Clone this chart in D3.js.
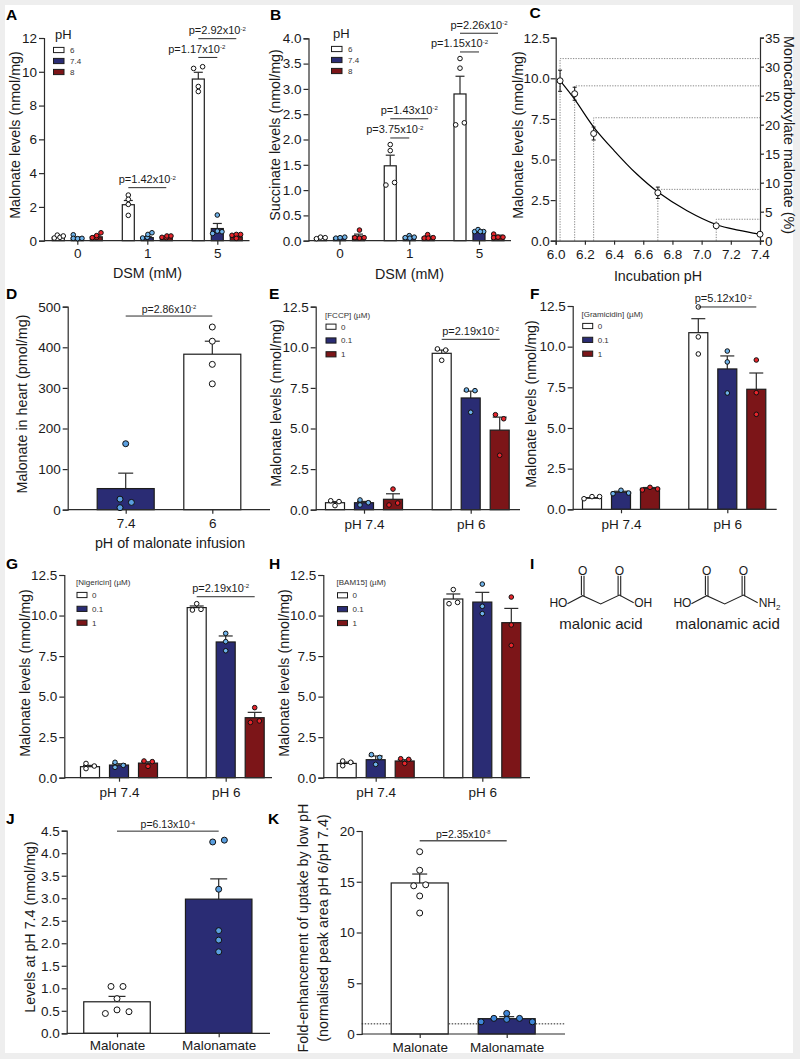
<!DOCTYPE html>
<html><head><meta charset="utf-8">
<script src="https://cdn.jsdelivr.net/npm/d3@7"></script>
<style>
html,body{margin:0;padding:0;background:#fff}
svg{display:block}
text{font-family:"Liberation Sans",Arial,sans-serif;fill:#1a1a1a}
</style></head><body><svg id="c" width="800" height="1059"></svg>
<script>
// ---------- DATA (dots are [value, lane]; lane -1..1 = across the bar width) ----------
const pHSeries=["6","7.4","8"], doseSeries=["0","0.1","1"];
const dsmGroups=["0","1","5"], phGroups=["pH 7.4","pH 6"];

const aMeans=[[0.2,0.17,0.23],[2.13,0.18,0.2],[9.57,0.72,0.22]];
const aErrs=[[0.04,0.05,0.06],[0.25,0.06,0.03],[0.4,0.3,0.04]];
const aDots=[
 [[[0.16,-.67],[0.33,-.17],[0.2,.28],[0.28,.83]],[[0.35,-.67],[0.14,-.67],[0.12,.05],[0.14,.78]],[[0.18,-.67],[0.2,.05],[0.3,.05],[0.47,.78]]],
 [[[2.7,0],[2.45,0],[2.15,0],[1.5,0]],[[0.16,-.78],[0.2,0],[0.37,.1],[0.47,.78]],[[0.2,-.72],[0.18,0],[0.28,.1],[0.28,.78]]],
 [[[10.2,-.78],[10.3,.72],[9.13,0],[8.83,0]],[[1.52,0],[0.43,-.78],[0.57,0],[0.53,.78]],[[0.32,-.72],[0.37,0],[0.37,.72],[0.14,0]]]];
const aBrackets=[[1,0,1,2,3.14,"1.42","-2",0],[2,0,2,1,10.85,"1.17","-2",-11],[2,0,2,2,11.96,"2.92","-2",0]];

const bMeans=[[0.05,0.06,0.09],[1.48,0.07,0.07],[2.9,0.17,0.09]];
const bErrs=[[0.01,0.01,0.04],[0.21,0.01,0.02],[0.35,0.01,0.02]];
const bDots=[
 [[[0.04,-.67],[0.07,0],[0.06,.78]],[[0.05,-.6],[0.06,.1],[0.07,.88]],[[0.21,.16],[0.06,-.6],[0.05,.16],[0.06,.94]]],
 [[[1.9,0],[1.78,0],[1.1,-.72],[1.15,.72]],[[0.06,-.67],[0.1,0],[0.05,.1],[0.07,.83]],[[0.05,-.67],[0.12,-.1],[0.05,0],[0.06,.83]]],
 [[[3.6,0],[3.41,0],[2.29,-.72],[2.33,.72]],[[0.18,-.72],[0.22,-.16],[0.18,.78],[0.18,.22]],[[0.13,-.72],[0.06,-.72],[0.07,0],[0.07,.83]]]];
const bBrackets=[[1,0,1,1,2.03,"3.75","-2",-5],[1,0,1,2,2.41,"1.43","-2",0],[2,0,2,1,3.73,"1.15","-2",-10],[2,0,2,2,4.1,"2.26","-2",0]];

const cPH=[6.03,6.13,6.26,6.7,7.1,7.4];
const cMean=[9.85,9.05,6.6,2.95,0.92,0.4];
const cErr=[0.65,0.4,0.4,0.35,0.1,0.1];
const cPercent=[31.4,26.7,21.2,8.85,3.7];
const cCurvePH=[6.03,6.13,6.26,6.4,6.55,6.7,6.9,7.1,7.25,7.4];
const cCurveVal=[9.85,8.7,7.0,5.55,4.15,3.0,1.85,1.0,0.65,0.4];
const cXTicks=[6.0,6.2,6.4,6.6,6.8,7.0,7.2,7.4];
const cYTicks=[0,2.5,5,7.5,10,12.5];
const cRTicks=[0,5,10,15,20,25,30,35];

const dGroups=["7.4","6"];
const dMeans=[[52],[383]], dErrs=[[38],[32]];
const dDots=[[[[162.5,0],[26,-.2],[18,.2],[5,-.2]]],[[[450,0],[415,0],[358,0],[310,0]]]];

const eMeans=[[0.43,0.43,0.64],[9.63,6.88,4.9]];
const eErrs=[[0.07,0.08,0.34],[0.2,0.42,0.8]];
const eDots=[
 [[[0.55,-.45],[0.5,.42],[0.25,0]],[[0.6,-.42],[0.43,.45],[0.29,-.42]],[[1.27,0],[0.29,-.42],[0.41,.49]]],
 [[[9.9,-.45],[9.83,.42],[9.2,0]],[[7.37,-.45],[7.33,.45],[6.0,0]],[[5.85,-.45],[5.6,.42],[3.35,0]]]];
const fMeans=[[0.68,1.05,1.29],[10.86,8.63,7.38]];
const fErrs=[[0.04,0.06,0.05],[0.86,0.8,1.0]];
const fDots=[
 [[[0.65,-.84],[0.78,0],[0.78,.8]],[[0.96,-.84],[1.17,0],[1.0,.8]],[[1.19,-.8],[1.35,0],[1.25,.8]]],
 [[[12.44,0],[10.6,0],[9.55,0]],[[9.73,0],[9.06,0],[7.15,0]],[[9.18,0],[7.17,0],[5.84,0]]]];
const gMeans=[[0.68,0.78,0.9],[10.49,8.37,3.7]];
const gErrs=[[0.08,0.08,0.08],[0.1,0.37,0.33]];
const gDots=[
 [[[0.88,-.42],[0.72,.45],[0.56,-.42]],[[0.95,-.42],[0.76,.45],[0.64,-.42]],[[1.03,-.42],[0.99,.45],[0.7,0]]],
 [[[10.34,-.45],[10.73,0],[10.38,.45]],[[8.9,0],[8.39,0],[7.83,0]],[[4.32,0],[3.41,-.45],[3.5,.49]]]];
const hMeans=[[0.88,1.11,1.03],[11.02,10.83,9.56]];
const hErrs=[[0.08,0.23,0.08],[0.31,0.6,0.88]];
const hDots=[
 [[[1.03,-.42],[0.95,.42],[0.74,-.42]],[[1.42,-.45],[1.25,.42],[0.82,0]],[[1.17,-.42],[1.13,.42],[0.88,0]]],
 [[[11.6,0],[10.73,-.45],[10.81,.45]],[[11.94,0],[10.57,0],[10.12,0]],[[11.14,0],[9.42,0],[8.16,0]]]];

const jGroups=["Malonate","Malonamate"];
const jMeans=[[0.7],[2.98]], jErrs=[[0.12],[0.45]];
const jDots=[[[[1.04,-.18],[1.04,.18],[0.77,0],[0.52,0],[0.48,.36],[0.44,-.35]]],[[[4.25,-.18],[4.29,.17],[3.2,0],[2.28,0],[2.07,0],[1.81,0]]]];
const kMeans=[[14.88],[1.51]], kErrs=[[0.88],[0.2]];
const kDots=[[[[17.96,0],[16.13,0],[14.6,-.21],[14.7,.21],[13.6,0],[11.92,0]]],[[[1.2,-.9],[1.54,-.45],[2.03,0],[1.44,0],[1.54,.45],[1.2,.9]]]];

const yTicksDose=[0,2.5,5,7.5,10,12.5];
const yTicksA=[0,2,4,6,8,10,12];
const yTicksB=[0,0.5,1,1.5,2,2.5,3,3.5,4];
const yTicksD=[0,100,200,300,400,500];
const yTicksJ=[0,0.5,1,1.5,2,2.5,3,3.5,4,4.5];
const yTicksK=[0,5,10,15,20];

// ---------- STYLE ----------
const WHITE="#ffffff",NAVY="#2a2c74",WINE="#7c1518";
const DOT_W="#ffffff",DOT_B="#6fb3ea",DOT_R="#e8252b",DOT_B2="#5a9fe0";
const INK="#2b2b2b";
const TITLE=14.3,TICK=13.5;
const svg=d3.select("#c");
svg.append("rect").attr("width",800).attr("height",1059).attr("fill","#eeeeee");
svg.append("rect").attr("x",5).attr("y",5).attr("width",788).attr("height",1048).attr("fill","#fff");

function txt(x,y,s,size,opt={}){
  const t=svg.append("text").attr("x",x).attr("y",y).attr("font-size",size).text(s);
  if(opt.anchor)t.attr("text-anchor",opt.anchor);
  if(opt.bold)t.attr("font-weight","bold");
  if(opt.rot!=null)t.attr("x",null).attr("y",null).attr("transform",`translate(${x},${y}) rotate(${opt.rot})`);
  return t;
}
function letter(s,x,y){txt(x,y,s,15.5,{bold:true}).style("fill","#000");}
function styleAxis(g,size){
  g.selectAll("path,line").attr("stroke",INK).attr("stroke-width",1.2);
  g.selectAll("text").attr("font-size",size).attr("font-family",'"Liberation Sans",Arial,sans-serif').style("fill","#1a1a1a");
}
function pText(x,y,num,exp,size){
  const t=svg.append("text").attr("x",x).attr("y",y).attr("text-anchor","middle").attr("font-size",size);
  t.append("tspan").text(`p=${num}x10`);
  t.append("tspan").attr("font-size",size*.55).attr("dy",-size*.36).text(exp);
}

function barPanel(o){
  const y=d3.scaleLinear().domain(o.yDomain).range(o.yRange);
  const x=d3.scalePoint().domain(o.groups).range(o.xRange);
  const sub=d3.scalePoint().domain(o.series).range([-o.off,o.off]);
  const cx=(g,s)=>x(o.groups[g])+(o.series.length>1?sub(o.series[s]):0);
  const hw=o.barW/2;
  const lane=d3.scaleLinear().domain([-1,1]).range([-hw,hw]);
  if(o.refLine!=null){
    svg.append("line").attr("x1",o.axisX).attr("x2",o.xEnd).attr("y1",y(o.refLine)).attr("y2",y(o.refLine))
      .attr("stroke","#222").attr("stroke-width",1).attr("stroke-dasharray","1.5,1.5");
  }
  o.means.forEach((row,g)=>row.forEach((m,s)=>{
    const c=cx(g,s),top=y(m),tip=y(m+o.errs[g][s]);
    svg.append("line").attr("x1",c).attr("x2",c).attr("y1",top).attr("y2",tip).attr("stroke",INK).attr("stroke-width",1.2);
    svg.append("line").attr("x1",c-o.cap).attr("x2",c+o.cap).attr("y1",tip).attr("y2",tip).attr("stroke",INK).attr("stroke-width",1.2);
    svg.append("rect").attr("x",c-hw).attr("width",o.barW).attr("y",top).attr("height",y(0)-top)
      .attr("fill",o.fills(g,s)).attr("stroke","#1c1c1c").attr("stroke-width",1.2);
  }));
  // axes
  const ax=svg.append("g").attr("transform",`translate(${o.axisX},0)`)
    .call(d3.axisLeft(y).tickValues(o.yTicks).tickSizeOuter(0).tickSize(5).tickPadding(2).tickFormat(o.yFmt||(d=>d)));
  styleAxis(ax,o.tickSize||TICK);
  const bx=svg.append("g").attr("transform",`translate(0,${y(0)})`)
    .call(d3.axisBottom(x).tickSize(4).tickSizeOuter(0).tickPadding(o.xPad||4));
  bx.select(".domain").remove();
  styleAxis(bx,o.tickSize||TICK);
  svg.append("line").attr("x1",o.axisX).attr("x2",o.xEnd).attr("y1",y(0)).attr("y2",y(0)).attr("stroke",INK).attr("stroke-width",1.2);
  // dots
  o.dots.forEach((row,g)=>row.forEach((pts,s)=>pts.forEach(([v,l])=>{
    svg.append("circle").attr("cx",cx(g,s)+lane(l)).attr("cy",y(v)).attr("r",o.r)
      .attr("fill",o.dotFills(g,s)).attr("stroke","#111").attr("stroke-width",1);
  })));
  // brackets
  (o.brackets||[]).forEach(([g1,s1,g2,s2,v,num,exp,dx])=>{
    const a=cx(g1,s1),b=cx(g2,s2);
    svg.append("line").attr("x1",a).attr("x2",b).attr("y1",y(v)).attr("y2",y(v)).attr("stroke",o.bracketInk||INK).attr("stroke-width",o.bracketW||1);
    pText((a+b)/2+dx,y(v)-(o.pGap||4.5),num,exp,o.pSize||11);
  });
  // titles
  txt(o.yTitle[0],o.yTitle[1],o.yLabel,TITLE,{anchor:"middle",rot:-90});
  if(o.xLabel)txt(o.xTitle[0],o.xTitle[1],o.xLabel,TITLE,{anchor:"middle"});
}
function legend(o){
  if(o.title)txt(o.title[0],o.title[1],o.titleText,o.titleSize,{});
  const ly=d3.scalePoint().domain(o.labels).range(o.yRange);
  o.labels.forEach((l,i)=>{
    svg.append("rect").attr("x",o.x).attr("y",ly(l)-2.6).attr("width",o.w).attr("height",5.2)
      .attr("fill",[WHITE,NAVY,WINE][i]).attr("stroke","#1c1c1c").attr("stroke-width",1);
    txt(o.x+o.w+o.gap,ly(l)+2.8,l,o.size).style("fill","#333");
  });
}
const triFill=(g,s)=>[WHITE,NAVY,WINE][s];
const triDot=(g,s)=>[DOT_W,DOT_B,DOT_R][s];
const f1=d3.format(".1f");

// A
barPanel({groups:dsmGroups,series:pHSeries,means:aMeans,errs:aErrs,dots:aDots,brackets:aBrackets,
 yDomain:[0,12],yRange:[240.7,38],yTicks:yTicksA,xRange:[77.3,217.3],off:19,barW:12,cap:4.5,axisX:44,xEnd:249.5,
 fills:triFill,dotFills:triDot,r:2.3,yLabel:"Malonate levels (nmol/mg)",yTitle:[20,135],xLabel:"DSM (mM)",xTitle:[147.5,278],pGap:4.2});
letter("A",6,20);
legend({x:53.5,w:10.5,gap:6,labels:pHSeries,yRange:[50,72],size:8,title:[55,39],titleText:"pH",titleSize:13});
// B
barPanel({groups:dsmGroups,series:pHSeries,means:bMeans,errs:bErrs,dots:bDots,brackets:bBrackets,
 yDomain:[0,4],yRange:[240.7,38.3],yTicks:yTicksB,yFmt:f1,xRange:[339.5,479],off:19,barW:12,cap:4.5,axisX:308.5,xEnd:511,
 fills:triFill,dotFills:triDot,r:2.3,yLabel:"Succinate levels (nmol/mg)",yTitle:[280,135],xLabel:"DSM (mM)",xTitle:[409.5,279],pGap:4.5});
letter("B",270,20);
legend({x:331.5,w:10.5,gap:6,labels:pHSeries,yRange:[49,71],size:8,title:[333,38],titleText:"pH",titleSize:13});

// C
(function(){
  const x=d3.scaleLinear().domain([6,7.4]).range([555.7,760]);
  const y=d3.scaleLinear().domain([0,12.5]).range([240.7,37.7]);
  const yR=d3.scaleLinear().domain([0,35]).range([240.7,37.7]);
  cPercent.forEach((p,i)=>{
    svg.append("path").attr("d",d3.line()([[x(cPH[i]),y(0)],[x(cPH[i]),yR(p)],[x(7.4),yR(p)]]))
      .attr("fill","none").attr("stroke","#8a8a8a").attr("stroke-width",1).attr("stroke-dasharray","1.3,1.3");
  });
  const a1=svg.append("g").attr("transform","translate(555.7,0)").call(d3.axisLeft(y).tickValues(cYTicks).tickSizeOuter(0).tickSize(5).tickPadding(1).tickFormat(f1));
  styleAxis(a1,TICK);
  const a2=svg.append("g").attr("transform","translate(760,0)").call(d3.axisRight(yR).tickValues(cRTicks).tickSizeOuter(0).tickSize(4).tickPadding(1));
  styleAxis(a2,TICK);
  const a3=svg.append("g").attr("transform","translate(0,240.7)").call(d3.axisBottom(x).tickValues(cXTicks).tickSizeOuter(0).tickSize(4).tickPadding(5).tickFormat(f1));
  styleAxis(a3,TICK);
  svg.append("path").attr("d",d3.line().x(d=>x(d)).y((d,i)=>y(cCurveVal[i])).curve(d3.curveCatmullRom)(cCurvePH))
    .attr("fill","none").attr("stroke","#000").attr("stroke-width",1.2);
  cPH.forEach((p,i)=>{
    const c=x(p),t=y(cMean[i]+cErr[i]),b=y(cMean[i]-cErr[i]);
    svg.append("path").attr("d",`M${c-2},${t}H${c+2}M${c},${t}V${b}M${c-2},${b}H${c+2}`).attr("stroke","#111").attr("stroke-width",1).attr("fill","none");
    svg.append("circle").attr("cx",c).attr("cy",y(cMean[i])).attr("r",3).attr("fill","#fff").attr("stroke","#111").attr("stroke-width",1);
  });
  txt(523,135,"Malonate levels (nmol/mg)",TITLE,{anchor:"middle",rot:-90});
  txt(784,135,"Monocarboxylate malonate (%)",TITLE,{anchor:"middle",rot:90});
  txt(658,281,"Incubation pH",TITLE,{anchor:"middle"});
  letter("C",529.5,18);
})();

// D
barPanel({groups:dGroups,series:["only"],means:dMeans,errs:dErrs,dots:dDots,
 brackets:[[0,0,1,0,477,"2.86","-2",0]],
 yDomain:[0,500],yRange:[509.7,306.7],yTicks:yTicksD,xRange:[125.7,212.3],off:0,barW:57,cap:7.5,axisX:67.7,xEnd:270,xPad:5,
 fills:g=>[NAVY,WHITE][g],dotFills:g=>[DOT_B2,DOT_W][g],r:3,yLabel:"Malonate in heart (pmol/mg)",yTitle:[27,404],
 xLabel:"pH of malonate infusion",xTitle:[170,548],pGap:2.8,pSize:10.5});
letter("D",6,299);
// E
barPanel({groups:phGroups,series:doseSeries,means:eMeans,errs:eErrs,dots:eDots,brackets:[[1,0,1,2,10.49,"2.19","-2",0]],
 yDomain:[0,12.5],yRange:[509.7,306.7],yTicks:yTicksDose,yFmt:f1,xRange:[364,470.7],off:29,barW:19,cap:7,axisX:315.7,xEnd:520,xPad:6,
 fills:triFill,dotFills:triDot,r:2.3,yLabel:"Malonate levels (nmol/mg)",yTitle:[281,403]});
letter("E",269,299);
txt(325,317.5,"[FCCP] (µM)",8,{}).style("fill","#333");
legend({x:326,w:10,gap:5,labels:doseSeries,yRange:[326.7,354.3],size:8});
// F
barPanel({groups:phGroups,series:doseSeries,means:fMeans,errs:fErrs,dots:fDots,brackets:[[1,0,1,2,12.44,"5.12","-2",-4]],
 yDomain:[0,12.5],yRange:[509.3,306],yTicks:yTicksDose,yFmt:f1,xRange:[621,727.3],off:29,barW:19,cap:7,axisX:572.7,xEnd:776.7,xPad:6,
 fills:triFill,dotFills:triDot,r:2.3,yLabel:"Malonate levels (nmol/mg)",yTitle:[536,404]});
letter("F",530,299);
txt(581.5,317,"[Gramicidin] (µM)",8,{}).style("fill","#333");
legend({x:582.7,w:10,gap:5,labels:doseSeries,yRange:[326,353.7],size:8});
// G
barPanel({groups:phGroups,series:doseSeries,means:gMeans,errs:gErrs,dots:gDots,brackets:[[1,0,1,2,11.16,"2.19","-2",-5]],
 yDomain:[0,12.5],yRange:[777.7,575],yTicks:yTicksDose,yFmt:f1,xRange:[119,225.7],off:29,barW:19,cap:7,axisX:64.3,xEnd:272,xPad:6,
 fills:triFill,dotFills:triDot,r:2.3,yLabel:"Malonate levels (nmol/mg)",yTitle:[30,673]});
letter("G",6,569);
txt(76,584.5,"[Nigericin] (µM)",8,{}).style("fill","#333");
legend({x:77,w:10,gap:5,labels:doseSeries,yRange:[595,622.7],size:8});
// H
barPanel({groups:phGroups,series:doseSeries,means:hMeans,errs:hErrs,dots:hDots,
 yDomain:[0,12.5],yRange:[777.7,575],yTicks:yTicksDose,yFmt:f1,xRange:[375.7,482.3],off:29,barW:19,cap:7,axisX:323.3,xEnd:530,xPad:6,
 fills:triFill,dotFills:triDot,r:2.3,yLabel:"Malonate levels (nmol/mg)",yTitle:[289,673]});
letter("H",269,569);
txt(336.5,584.5,"[BAM15] (µM)",8,{}).style("fill","#333");
legend({x:337.5,w:10,gap:5,labels:doseSeries,yRange:[595.3,623],size:8});

// I — chemical structures
letter("I",530,569);
function molecule(ox,oy,amide,name){
  const bonds=d3.line();
  const p=(a,b)=>[ox+a,oy+b];
  const stroke=s=>s.attr("fill","none").attr("stroke","#222").attr("stroke-width",1.1);
  stroke(svg.append("path").attr("d",bonds([p(-15.3,8),p(0,0),p(18,8.3),p(36.7,-0.7),p(51,7)])));
  [0,36.7].forEach(c=>stroke(svg.append("path").attr("d",bonds([p(c-1.3,-0.5),p(c-1.3,-20)])+bonds([p(c+1.3,0.5),p(c+1.3,-20)]))));
  [0,36.7].forEach(c=>txt(ox+c,oy-20.5,"O",12,{anchor:"middle"}));
  txt(ox-15.3,oy+11.5,"HO",12,{anchor:"end"});
  if(amide){
    const t=txt(ox+52,oy+11.5,"NH",12);
    t.append("tspan").attr("font-size",8).attr("dy",2.5).text("2");
  }else txt(ox+51.5,oy+11.5,"OH",12);
  txt(ox+(amide?21:18.3),oy+33,name,15,{anchor:"middle"});
}
molecule(582.7,595.7,false,"malonic acid");
molecule(706.7,595.7,true,"malonamic acid");

// J
barPanel({groups:jGroups,series:["only"],means:jMeans,errs:jErrs,dots:jDots,brackets:[[0,0,1,0,4.49,"6.13","-4",0]],
 yDomain:[0,4.5],yRange:[1033.3,830.7],yTicks:yTicksJ,yFmt:f1,xRange:[117,218.7],off:0,barW:66.5,cap:8.5,axisX:66.7,xEnd:270,xPad:3,
 fills:g=>[WHITE,NAVY][g],dotFills:g=>[DOT_W,DOT_B2][g],r:3,yLabel:"Levels at pH 7.4 (nmol/mg)",yTitle:[35,927],pGap:2.8,pSize:10.5});
letter("J",6,824);
// K
barPanel({groups:jGroups,series:["only"],means:kMeans,errs:kErrs,dots:kDots,brackets:[[0,0,1,0,19.05,"2.35","-8",0]],
 yDomain:[0,20],yRange:[1034,831],yTicks:yTicksK,xRange:[419.7,506.7],off:0,barW:57,cap:7.5,axisX:361.7,xEnd:565,refLine:1,xPad:4,
 fills:g=>[WHITE,NAVY][g],dotFills:g=>[DOT_W,"#3f86d8"][g],r:3,yLabel:"Fold-enhancement of uptake by low pH",yTitle:[308,928],
 pGap:3,pSize:10.5,bracketInk:"#555",bracketW:1.5});
txt(328,928,"(normalised peak area pH 6/pH 7.4)",TITLE,{anchor:"middle",rot:-90});
letter("K",268,824);
</script></body></html>
